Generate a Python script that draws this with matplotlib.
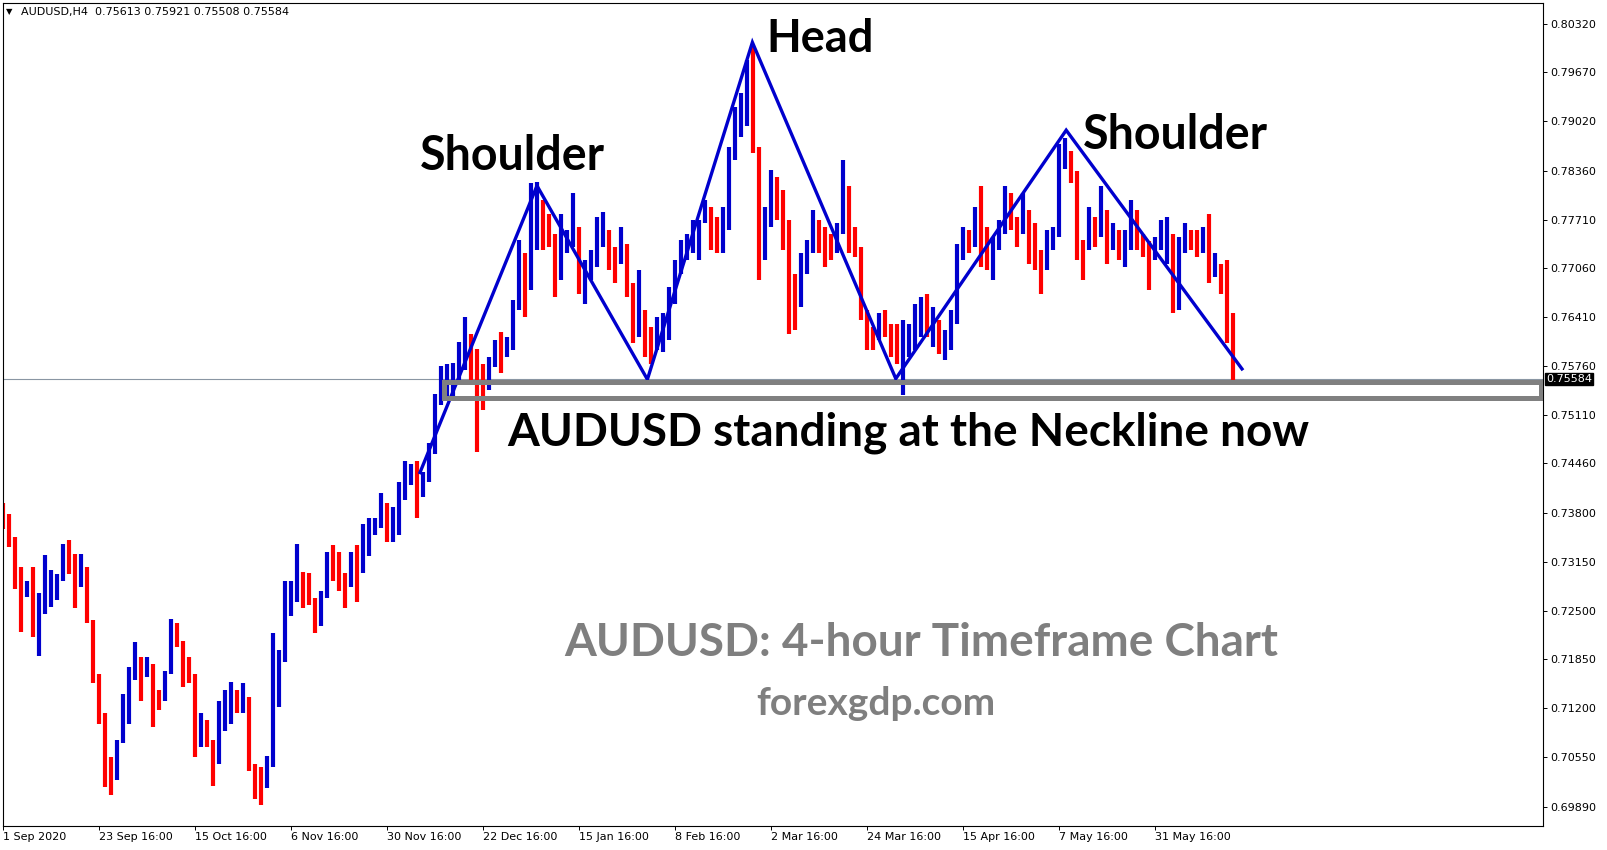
import numpy as np
import matplotlib
matplotlib.use("Agg")
import matplotlib.pyplot as plt
from matplotlib.patches import Rectangle

#########################################################
                # Data (one value per day)
#########################################################

high = [
    0.7393, 0.7379, 0.7339, 0.7297, 0.7290, 0.7308, 0.7273, 0.7324, 0.7304, 0.7299,
    0.7339, 0.7344, 0.7326, 0.7326, 0.7286, 0.7233, 0.7144, 0.7081, 0.7055, 0.7077,
    0.7139, 0.7175, 0.7208, 0.7188, 0.7188, 0.7170, 0.7144, 0.7170, 0.7239, 0.7233,
    0.7210, 0.7188, 0.7130, 0.7113, 0.7104, 0.7059, 0.7130, 0.7144, 0.7155, 0.7144,
    0.7153, 0.7113, 0.7046, 0.7042, 0.7056, 0.7220, 0.7197, 0.7290, 0.7290, 0.7339,
    0.7302, 0.7300, 0.7267, 0.7276, 0.7328, 0.7337, 0.7328, 0.7300, 0.7328, 0.7337,
    0.7365, 0.7374, 0.7374, 0.7407, 0.7393, 0.7388, 0.7421, 0.7449, 0.7445, 0.7449,
    0.7435, 0.7473, 0.7538, 0.7576, 0.7578, 0.7580, 0.7608, 0.7641, 0.7608, 0.7597,
    0.7575, 0.7588, 0.7610, 0.7621, 0.7615, 0.7664, 0.7744, 0.7726, 0.7819, 0.7821,
    0.7797, 0.7779, 0.7730, 0.7779, 0.7757, 0.7806, 0.7735, 0.7717, 0.7730, 0.7775,
    0.7781, 0.7748, 0.7735, 0.7761, 0.7739, 0.7686, 0.7704, 0.7650, 0.7628, 0.7641,
    0.7646, 0.7681, 0.7717, 0.7744, 0.7752, 0.7770, 0.7770, 0.7797, 0.7788, 0.7775,
    0.7788, 0.7868, 0.7921, 0.7939, 0.7984, 0.8001, 0.7859, 0.7788, 0.7837, 0.7828,
    0.7810, 0.7726, 0.7699, 0.7726, 0.7744, 0.7784, 0.7770, 0.7761, 0.7752, 0.7766,
    0.7850, 0.7775, 0.7761, 0.7699, 0.7637, 0.7628, 0.7646, 0.7650, 0.7632, 0.7632,
    0.7637, 0.7632, 0.7659, 0.7668, 0.7672, 0.7655, 0.7632, 0.7624, 0.7650, 0.7739,
    0.7761, 0.7757, 0.7788, 0.7815, 0.7761, 0.7748, 0.7770, 0.7815, 0.7797, 0.7775,
    0.7806, 0.7775, 0.7766, 0.7730, 0.7757, 0.7761, 0.7872, 0.7880, 0.7862, 0.7819,
    0.7744, 0.7788, 0.7775, 0.7815, 0.7779, 0.7766, 0.7757, 0.7757, 0.7797, 0.7784,
    0.7752, 0.7743, 0.7748, 0.7770, 0.7775, 0.7752, 0.7748, 0.7766, 0.7757, 0.7757,
    0.7761, 0.7779, 0.7726, 0.7712, 0.7717, 0.7625,
]

low = [
    0.7359, 0.7335, 0.7279, 0.7221, 0.7268, 0.7215, 0.7190, 0.7246, 0.7255, 0.7264,
    0.7290, 0.7299, 0.7253, 0.7281, 0.7233, 0.7153, 0.7099, 0.7015, 0.7004, 0.7033,
    0.7081, 0.7099, 0.7157, 0.7130, 0.7161, 0.7095, 0.7117, 0.7144, 0.7170, 0.7201,
    0.7148, 0.7153, 0.7055, 0.7068, 0.7068, 0.7017, 0.7068, 0.7090, 0.7099, 0.7113,
    0.7113, 0.7037, 0.6999, 0.6991, 0.7023, 0.7042, 0.7122, 0.7201, 0.7243, 0.7262,
    0.7253, 0.7257, 0.7220, 0.7243, 0.7281, 0.7290, 0.7276, 0.7253, 0.7281, 0.7262,
    0.7323, 0.7323, 0.7351, 0.7365, 0.7342, 0.7342, 0.7351, 0.7398, 0.7417, 0.7374,
    0.7402, 0.7421, 0.7482, 0.7524, 0.7529, 0.7533, 0.7557, 0.7571, 0.7557, 0.7461,
    0.7517, 0.7544, 0.7575, 0.7566, 0.7588, 0.7597, 0.7650, 0.7641, 0.7677, 0.7730,
    0.7730, 0.7735, 0.7668, 0.7690, 0.7726, 0.7735, 0.7672, 0.7659, 0.7690, 0.7708,
    0.7735, 0.7704, 0.7686, 0.7721, 0.7668, 0.7606, 0.7615, 0.7588, 0.7579, 0.7597,
    0.7595, 0.7610, 0.7659, 0.7708, 0.7717, 0.7726, 0.7717, 0.7766, 0.7730, 0.7726,
    0.7726, 0.7757, 0.7859, 0.7881, 0.7895, 0.7859, 0.7690, 0.7717, 0.7770, 0.7770,
    0.7730, 0.7619, 0.7624, 0.7681, 0.7699, 0.7726, 0.7726, 0.7708, 0.7717, 0.7726,
    0.7788, 0.7726, 0.7721, 0.7637, 0.7597, 0.7597, 0.7610, 0.7615, 0.7588, 0.7579,
    0.7537, 0.7588, 0.7597, 0.7615, 0.7615, 0.7601, 0.7592, 0.7584, 0.7597, 0.7677,
    0.7717, 0.7726, 0.7748, 0.7708, 0.7704, 0.7690, 0.7730, 0.7766, 0.7757, 0.7735,
    0.7752, 0.7712, 0.7704, 0.7672, 0.7704, 0.7730, 0.7755, 0.7838, 0.7820, 0.7717,
    0.7690, 0.7730, 0.7735, 0.7770, 0.7712, 0.7730, 0.7717, 0.7708, 0.7735, 0.7730,
    0.7721, 0.7677, 0.7717, 0.7730, 0.7712, 0.7646, 0.7650, 0.7726, 0.7730, 0.7721,
    0.7726, 0.7686, 0.7695, 0.7672, 0.7606, 0.7551,
]

close = [
    0.7366, 0.7348, 0.7308, 0.7277, 0.7277, 0.7219, 0.7264, 0.7273, 0.7281, 0.7290,
    0.7326, 0.7317, 0.7290, 0.7308, 0.7237, 0.7166, 0.7113, 0.7050, 0.7024, 0.7073,
    0.7130, 0.7157, 0.7179, 0.7166, 0.7179, 0.7139, 0.7130, 0.7166, 0.7228, 0.7210,
    0.7179, 0.7166, 0.7086, 0.7086, 0.7077, 0.7046, 0.7113, 0.7121, 0.7135, 0.7130,
    0.7135, 0.7046, 0.7024, 0.7014, 0.7047, 0.7131, 0.7182, 0.7271, 0.7276, 0.7290,
    0.7276, 0.7267, 0.7229, 0.7267, 0.7309, 0.7304, 0.7295, 0.7281, 0.7309, 0.7300,
    0.7346, 0.7356, 0.7360, 0.7384, 0.7365, 0.7374, 0.7402, 0.7431, 0.7431, 0.7421,
    0.7421, 0.7459, 0.7529, 0.7548, 0.7557, 0.7557, 0.7594, 0.7618, 0.7599, 0.7579,
    0.7544, 0.7579, 0.7601, 0.7597, 0.7606, 0.7655, 0.7717, 0.7708, 0.7779, 0.7797,
    0.7761, 0.7752, 0.7704, 0.7739, 0.7744, 0.7761, 0.7686, 0.7695, 0.7717, 0.7748,
    0.7757, 0.7721, 0.7712, 0.7739, 0.7686, 0.7632, 0.7650, 0.7615, 0.7606, 0.7615,
    0.7630, 0.7668, 0.7699, 0.7730, 0.7735, 0.7752, 0.7766, 0.7779, 0.7761, 0.7752,
    0.7770, 0.7850, 0.7904, 0.7917, 0.7961, 0.7868, 0.7735, 0.7761, 0.7824, 0.7788,
    0.7770, 0.7672, 0.7655, 0.7708, 0.7726, 0.7770, 0.7752, 0.7744, 0.7735, 0.7752,
    0.7815, 0.7761, 0.7735, 0.7650, 0.7615, 0.7610, 0.7637, 0.7632, 0.7615, 0.7588,
    0.7615, 0.7615, 0.7632, 0.7650, 0.7624, 0.7637, 0.7615, 0.7615, 0.7632, 0.7730,
    0.7744, 0.7735, 0.7775, 0.7757, 0.7730, 0.7730, 0.7752, 0.7806, 0.7775, 0.7757,
    0.7784, 0.7752, 0.7726, 0.7704, 0.7739, 0.7748, 0.7855, 0.7858, 0.7835, 0.7735,
    0.7730, 0.7766, 0.7748, 0.7784, 0.7748, 0.7748, 0.7730, 0.7730, 0.7757, 0.7748,
    0.7743, 0.7717, 0.7735, 0.7748, 0.7752, 0.7655, 0.7739, 0.7757, 0.7743, 0.7739,
    0.7743, 0.7712, 0.7712, 0.7690, 0.7646, 0.75584,
]
first_open = 0.7390

# x axis labels every 16 days (96 H4 bars)
tick_days = [0, 16, 32, 48, 64, 80, 96, 112, 128, 144, 160, 176, 192]
tick_labels = ["1 Sep 2020", "23 Sep 16:00", "15 Oct 16:00", "6 Nov 16:00",
               "30 Nov 16:00", "22 Dec 16:00", "15 Jan 16:00", "8 Feb 16:00",
               "2 Mar 16:00", "24 Mar 16:00", "15 Apr 16:00", "7 May 16:00",
               "31 May 16:00"]
price_ticks = [0.80320, 0.79670, 0.79020, 0.78360, 0.77710, 0.77060, 0.76410,
               0.75760, 0.75110, 0.74460, 0.73800, 0.73150, 0.72500, 0.71850,
               0.71200, 0.70550, 0.69890]

# head & shoulders trend lines (day, price)
pattern_days = [69.5, 89.0, 107.4, 124.9, 148.8, 177.2, 206.5]
pattern_prices = [0.7434, 0.7816, 0.7558, 0.8007, 0.7559, 0.7890, 0.7572]

# neckline zone
zone_start_day = 73.5
zone_top = 0.75545
zone_bottom = 0.75336

last_price = 0.75584
header = "AUDUSD,H4  0.75613 0.75921 0.75508 0.75584"

#########################################################
                # Plot
#########################################################

fig = plt.figure(figsize=(16.07, 8.5), dpi=100)
ax = fig.add_axes([2.5 / 1607, 24 / 850, 1540.5 / 1607, 823.5 / 850])

n = len(close)
days = np.arange(n)
close_arr = np.array(close)
open_arr = np.concatenate([[first_open], close_arr[:-1]])
hi = np.maximum(np.array(high), np.maximum(open_arr, close_arr))
lo = np.minimum(np.array(low), np.minimum(open_arr, close_arr))
cols = np.where(close_arr >= open_arr, "#0000CD", "#FF0000")

# bid line
ax.axhline(last_price, color="#8A96A3", lw=0.8, zorder=1)

# bars (one per day, drawn wide so the band looks dense like the H4 chart)
ax.vlines(days, lo, hi, colors=cols, lw=3.0, zorder=2)

# pattern lines
ax.plot(pattern_days, pattern_prices, color="#0000CD", lw=2.4, zorder=3,
        solid_joinstyle="miter")

# neckline box
box = Rectangle((zone_start_day, zone_bottom), 256.4 - zone_start_day,
                zone_top - zone_bottom, fill=False, edgecolor="#808080",
                lw=3.6, zorder=4)
ax.add_patch(box)

ax.set_xlim(-0.083, 256.67)
ax.set_ylim(0.69631, 0.80601)

ax.yaxis.tick_right()
ax.set_yticks(price_ticks)
ax.set_yticklabels(["%.5f" % p for p in price_ticks])
ax.set_xticks(tick_days)
ax.set_xticklabels(tick_labels)
for lab in ax.get_xticklabels():
    lab.set_horizontalalignment("left")
ax.tick_params(axis="both", labelsize=8, length=3, width=0.7, colors="black")
ax.tick_params(axis="x", pad=1.5)
ax.tick_params(axis="y", pad=2)
for s in ax.spines.values():
    s.set_linewidth(0.8)

# current price label
ax.text(1.002, last_price, "0.75584", transform=ax.get_yaxis_transform(),
        color="white", fontsize=8, va="center", ha="left", zorder=10,
        bbox=dict(facecolor="black", edgecolor="black", pad=1.0),
        clip_on=False)

# header
fig.text(6 / 1607, 1 - 12 / 850, "\u25bc", fontsize=6, va="center")
fig.text(21 / 1607, 1 - 12 / 850, header, fontsize=8, va="center")

# annotations
big = dict(family=["Lato", "DejaVu Sans"], weight="bold", ha="center",
           va="baseline")
fig.text(512 / 1607, 1 - 170 / 850, "Shoulder", fontsize=33.5, color="black", **big)
fig.text(820 / 1607, 1 - 52 / 850, "Head", fontsize=32.5, color="black", **big)
fig.text(1175 / 1607, 1 - 149 / 850, "Shoulder", fontsize=33.5, color="black", **big)
fig.text(908 / 1607, 1 - 446 / 850, "AUDUSD standing at the Neckline now",
         fontsize=33, color="black", **big)
fig.text(921 / 1607, 1 - 656 / 850, "AUDUSD: 4-hour Timeframe Chart",
         fontsize=33, color="#7F7F7F", **big)
fig.text(876 / 1607, 1 - 715 / 850, "forexgdp.com", fontsize=28,
         color="#7F7F7F", **big)

plt.savefig("out.png", dpi=100)
